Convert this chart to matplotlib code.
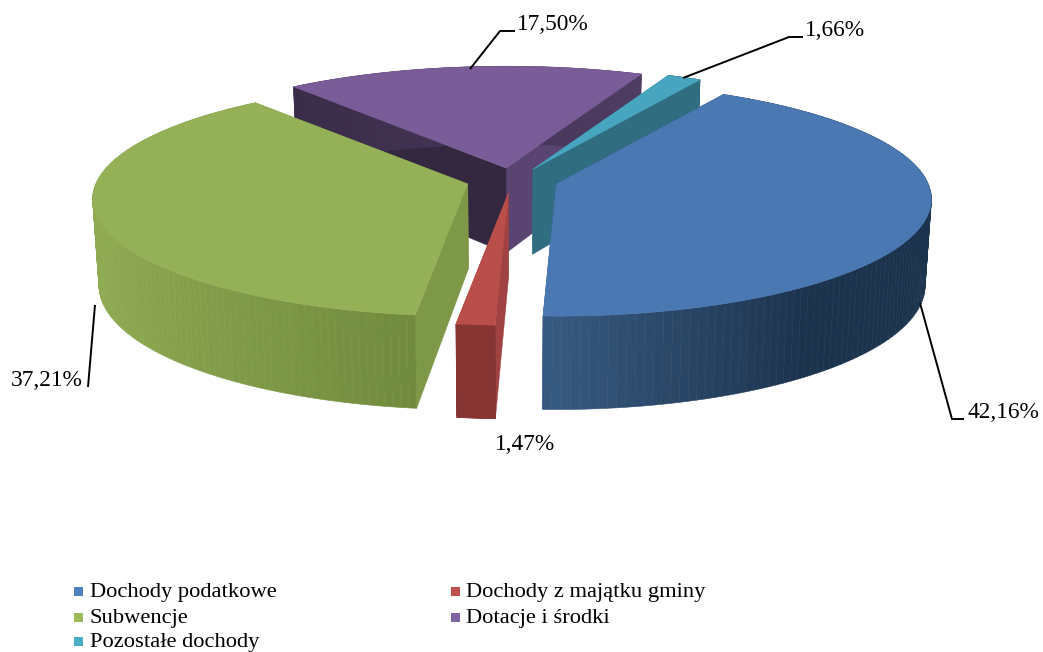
import numpy as np
import matplotlib
matplotlib.use("Agg")
import matplotlib.pyplot as plt
from matplotlib.collections import PolyCollection
from matplotlib.patches import Rectangle

plt.rcParams['font.family'] = ['Liberation Serif', 'DejaVu Serif']

# Data
categories = ["Dochody podatkowe", "Dochody z majątku gminy", "Subwencje", "Dotacje i środki", "Pozostałe dochody"]
values = [42.16, 1.47, 37.21, 17.50, 1.66]

top_colors = ["#4A78B3", "#B94E4B", "#94B157", "#7A5C99", "#47A5BF"]
legend_colors = ["#4F81BD", "#C0504D", "#9BBB59", "#8064A2", "#4BACC6"]
start_wall = ["#2F5078", "#A04241", "#7D9847", "#33283F", "#316D80"]
end_wall = ["#2F5078", "#A04241", "#7D9847", "#5A4472", "#316D80"]
# outer wall colour at left and right end of the gradient (by sin of the angle)
outer_left = ["#36597F", "#8C3835", "#8FAB52", "#33283F", "#316D80"]
outer_right = ["#1C334E", "#7F3230", "#6F8A3C", "#5A4472", "#316D80"]

# Projection of the pie on the canvas, in pixels
start_angle = 30.0
cx, cy = 512.0, 180.5
rx, ry = 372.0, 115.0
persp = 0.13
explode_x, explode_y = 46.0, 12.6
depth = 85.0
depth_persp = 0.09
bottom_scale = 0.985


def project(theta, radius, mid, bottom=False):
    """theta is in degrees, clockwise from the back of the pie"""
    t = np.radians(theta)
    m = np.radians(mid)
    px = radius * np.sin(t)
    py = radius * np.cos(t)
    s = 1 / (1 + persp * py)
    x = explode_x * np.sin(m) + rx * px * s
    y = -explode_y * np.cos(m) - ry * py * s
    if bottom:
        x = x * bottom_scale
        y = y + depth / (1 + depth_persp * py)
    return cx + x, cy + y


def hex_rgb(c):
    return np.array(matplotlib.colors.to_rgb(c))


fig = plt.figure(figsize=(10.43, 6.52), dpi=100)
ax = fig.add_axes([0, 0, 1, 1])
ax.set_xlim(0, 1043)
ax.set_ylim(652, 0)
ax.axis("off")

edges = start_angle + np.cumsum([0] + values) * 3.6
draw_order = [3, 4, 1, 2, 0]

for i in draw_order:
    a1, a2 = edges[i], edges[i + 1]
    mid = (a1 + a2) / 2
    apex_top = project(0, 0, mid)
    apex_bot = project(0, 0, mid, bottom=True)

    # radial walls
    for ang, col in ((a2, end_wall[i]), (a1, start_wall[i])):
        p_top = project(ang, 1, mid)
        p_bot = project(ang, 1, mid, bottom=True)
        ax.fill([apex_top[0], p_top[0], p_bot[0], apex_bot[0]],
                [apex_top[1], p_top[1], p_bot[1], apex_bot[1]],
                color=col, lw=0.3, zorder=i * 0 + 1)

    angles = np.linspace(a1, a2, 121)

    # outer wall with the gradient
    quads = []
    cols = []
    c_left, c_right = hex_rgb(outer_left[i]), hex_rgb(outer_right[i])
    for b1, b2 in zip(angles[:-1], angles[1:]):
        t1 = project(b1, 1, mid)
        t2 = project(b2, 1, mid)
        d1 = project(b1, 1, mid, bottom=True)
        d2 = project(b2, 1, mid, bottom=True)
        quads.append([t1, t2, d2, d1])
        f = (np.sin(np.radians((b1 + b2) / 2)) + 1) / 2
        if i == 0:
            f = min(1, (f - 0.5) / 0.3)
        elif i == 2:
            f = f / 0.45
        cols.append(c_left + (c_right - c_left) * np.clip(f, 0, 1))
    ax.add_collection(PolyCollection(quads, facecolors=cols, edgecolors=cols, linewidths=0.4, zorder=1))

    # top face
    xs, ys = project(angles, 1, mid)
    ax.fill(np.r_[apex_top[0], xs], np.r_[apex_top[1], ys], color=top_colors[i], lw=0.3, zorder=1)

# Leader lines
leaders = [
    ([920, 952, 964], [303, 419, 419]),
    ([95, 88], [305, 387]),
    ([470, 500, 515], [69, 31, 31]),
    ([683, 789, 803], [78, 37, 37]),
]
for lx, ly in leaders:
    ax.plot(lx, ly, color="black", lw=1.4, solid_capstyle="butt", zorder=3)

# Data labels
label_pos = [(968, 412), (495, 444), (11, 381), (517, 24), (805, 31)]
for v, (lx, ly) in zip(values, label_pos):
    ax.text(lx, ly, f"{v:.2f}%".replace(".", ","), fontsize=16.8, ha="left", va="center", color="black", zorder=4)

# Legend
legend_pos = [(74, 592), (451, 592), (74, 618), (451, 618), (74, 642)]
legend_pos = [legend_pos[0], legend_pos[1], legend_pos[2], legend_pos[3], legend_pos[4]]
for name, col, (lx, ly) in zip(categories, legend_colors, legend_pos):
    ax.add_patch(Rectangle((lx, ly - 5), 9, 9, color=col, lw=0))
    ax.text(lx + 15.5, ly, name, fontsize=16.2, ha="left", va="center", color="black")

fig.savefig("out.png", dpi=100)
